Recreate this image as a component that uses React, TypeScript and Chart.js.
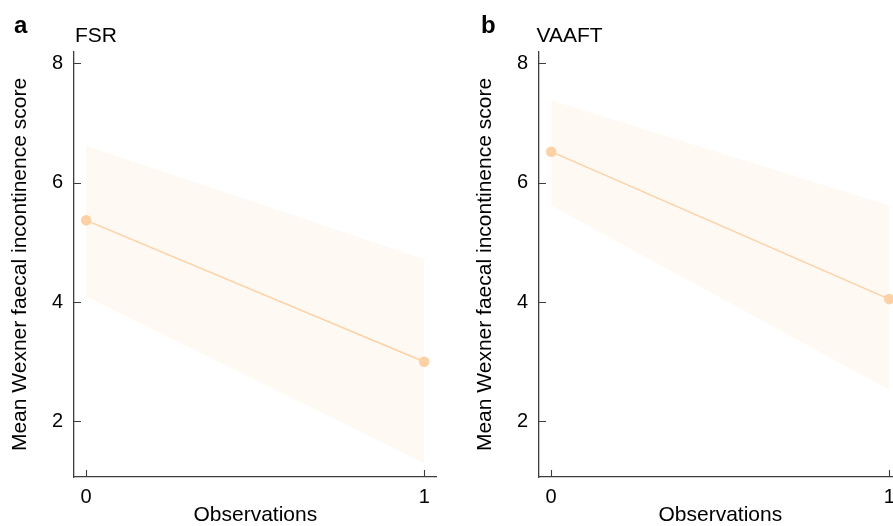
import React, { useEffect, useRef } from 'react';
import { Chart, registerables } from 'chart.js';

Chart.register(...registerables);

// ---- data ----
const observations = [0, 1];
const fsrMean = [5.37, 3.0];
const fsrUpper = [6.62, 4.72];
const fsrLower = [4.1, 1.3];
const vaaftMean = [6.52, 4.05];
const vaaftUpper = [7.38, 5.62];
const vaaftLower = [5.62, 2.53];
const xTickValues = [0, 1];
const yTickValues = [2, 4, 6, 8];
const panelLetters = ['a', 'b'];
const panelNames = ['FSR', 'VAAFT'];
const xAxisTitle = 'Observations';
const yAxisTitle = 'Mean Wexner faecal incontinence score';

const FONT = '"Liberation Sans", Arial, Helvetica, sans-serif';
const W = 446;
const H = 526;
const LINE_COLOR = '#fcd1a6';
const RIBBON_COLOR = 'rgba(253, 208, 162, 0.13)';
const AXIS_COLOR = '#3c3c3c';

type PanelProps = {
  mean: number[];
  upper: number[];
  lower: number[];
  letter: string;
  name: string;
  letterX: number;
  nameX: number;
};

function Panel({ mean, upper, lower, letter, name, letterX, nameX }: PanelProps) {
  const ref = useRef<HTMLCanvasElement | null>(null);

  useEffect(() => {
    if (!ref.current) return;
    const toPts = (arr: number[]) => observations.map((x, i) => ({ x, y: arr[i] }));

    const annot = {
      id: 'annot',
      afterDraw(chart: any) {
        const ctx = chart.ctx;
        const xs = chart.scales.x;
        const ys = chart.scales.y;
        const area = chart.chartArea;
        ctx.save();
        ctx.strokeStyle = AXIS_COLOR;
        ctx.lineWidth = 1.1;
        ctx.beginPath();
        xTickValues.forEach((v) => {
          const px = Math.round(xs.getPixelForValue(v)) + 0.5;
          ctx.moveTo(px, area.bottom);
          ctx.lineTo(px, area.bottom - 7);
        });
        yTickValues.forEach((v) => {
          const py = Math.round(ys.getPixelForValue(v)) + 0.5;
          ctx.moveTo(area.left, py);
          ctx.lineTo(area.left + 7, py);
        });
        ctx.stroke();
        ctx.fillStyle = '#000';
        ctx.textBaseline = 'alphabetic';
        ctx.textAlign = 'left';
        ctx.font = `bold 24px ${FONT}`;
        ctx.fillText(letter, letterX, 33);
        ctx.font = `21px ${FONT}`;
        ctx.fillText(name, nameX, 41.5);
        ctx.restore();
      },
    };

    const chart = new Chart(ref.current, {
      type: 'line',
      data: {
        datasets: [
          {
            data: toPts(mean),
            borderColor: LINE_COLOR,
            backgroundColor: LINE_COLOR,
            borderWidth: 1.5,
            pointRadius: 5.3,
            pointBackgroundColor: LINE_COLOR,
            pointBorderWidth: 0,
            fill: false,
          },
          {
            data: toPts(upper),
            borderWidth: 0,
            borderColor: 'rgba(0,0,0,0)',
            pointRadius: 0,
            fill: false,
          },
          {
            data: toPts(lower),
            borderWidth: 0,
            borderColor: 'rgba(0,0,0,0)',
            backgroundColor: RIBBON_COLOR,
            pointRadius: 0,
            fill: '-1',
          },
        ],
      },
      options: {
        animation: false,
        responsive: false,
        devicePixelRatio: 1,
        layout: { padding: { left: 0, right: W - 436.7, top: 52, bottom: 0 } },
        plugins: { legend: { display: false }, tooltip: { enabled: false } },
        scales: {
          x: {
            type: 'linear',
            min: -0.036,
            max: 1.037,
            afterBuildTicks: (s: any) => {
              s.ticks = xTickValues.map((v) => ({ value: v }));
            },
            afterFit: (s: any) => {
              s.height = 49;
            },
            grid: { display: false, drawTicks: false },
            border: { display: true, color: AXIS_COLOR, width: 1.3 },
            ticks: {
              autoSkip: false,
              padding: 8,
              color: '#000',
              font: { family: FONT, size: 20 },
              callback: (v: any) => String(v),
            },
            title: {
              display: true,
              text: xAxisTitle,
              color: '#000',
              font: { family: FONT, size: 21, lineHeight: 1 },
              padding: { top: 0, bottom: 0 },
            },
          },
          y: {
            type: 'linear',
            min: 1.07,
            max: 8.19,
            afterBuildTicks: (s: any) => {
              s.ticks = yTickValues.map((v) => ({ value: v }));
            },
            afterFit: (s: any) => {
              s.width = 74;
            },
            grid: { display: false, drawTicks: false },
            border: { display: true, color: AXIS_COLOR, width: 1.3 },
            ticks: {
              autoSkip: false,
              padding: 11,
              color: '#000',
              font: { family: FONT, size: 20 },
              callback: (v: any) => String(v),
            },
            title: {
              display: true,
              text: yAxisTitle,
              color: '#000',
              font: { family: FONT, size: 21, lineHeight: 1 },
              padding: { top: 10, bottom: 0 },
            },
          },
        },
      },
      plugins: [annot],
    } as any);

    return () => chart.destroy();
  }, [mean, upper, lower, letter, name, letterX, nameX]);

  return <canvas ref={ref} width={W} height={H} style={{ width: W, height: H, display: 'block' }} />;
}

export default function App() {
  useEffect(() => {
    document.body.style.margin = '0';
    document.body.style.overflow = 'hidden';
  }, []);
  return (
    <div style={{ position: 'relative', width: 893, height: 526, overflow: 'hidden', background: '#fff' }}>
      <div style={{ position: 'absolute', left: 0, top: 0 }}>
        <Panel mean={fsrMean} upper={fsrUpper} lower={fsrLower} letter={panelLetters[0]} name={panelNames[0]} letterX={14} nameX={75} />
      </div>
      <div style={{ position: 'absolute', left: 465, top: 0 }}>
        <Panel mean={vaaftMean} upper={vaaftUpper} lower={vaaftLower} letter={panelLetters[1]} name={panelNames[1]} letterX={16} nameX={71.5} />
      </div>
    </div>
  );
}
